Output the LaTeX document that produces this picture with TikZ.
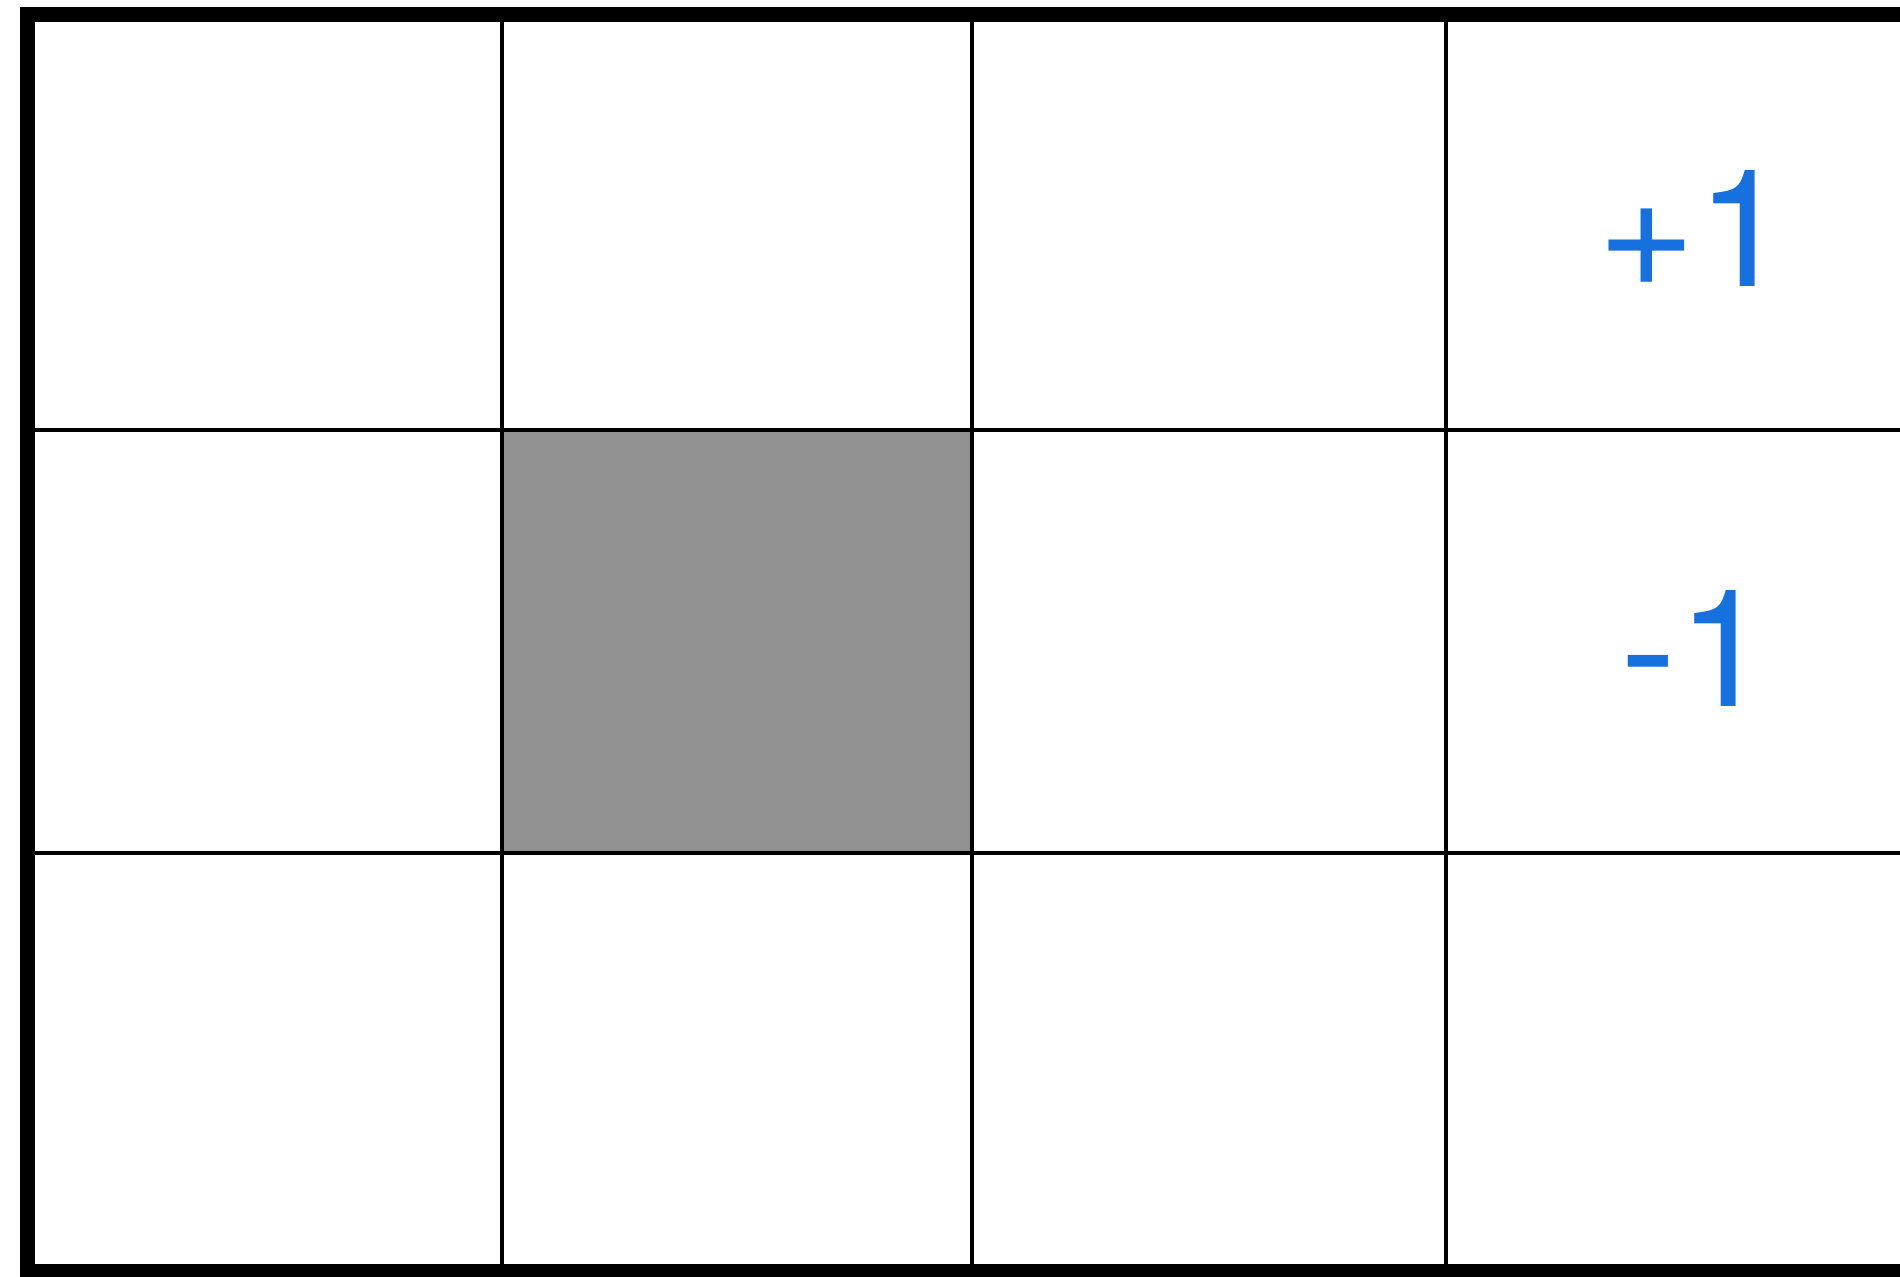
\documentclass[tikz,border=0pt]{standalone}
\usepackage{fontspec}
\setmainfont{TeX Gyre Heros}
\definecolor{wallgray}{RGB}{145,145,145}
\definecolor{rewardblue}{RGB}{22,112,222}
\usetikzlibrary{positioning}

\begin{document}
\begin{tikzpicture}[x=0.01cm, y=-0.01cm,
  gridline/.style={black, line width=1.2pt},
  outerline/.style={black, line width=4.5pt},
  reward/.style={font=\fontsize{48}{52}\selectfont, text=rewardblue,
                 inner sep=0pt, yscale=0.97}]
  \useasboundingbox (0,0) rectangle (1900,1277);
  \clip (0,0) rectangle (1900,1277);
  % Mur
  \fill[wallgray] (502,430) rectangle (972,853);
  % Grille
  \draw[gridline] (27,430) -- (1960,430);
  \draw[gridline] (27,853) -- (1960,853);
  \draw[gridline] (502,14) -- (502,1272);
  \draw[gridline] (972,14) -- (972,1272);
  \draw[gridline] (1446,14) -- (1446,1272);
  % Bord
  \draw[outerline] (1960,14.5) -- (27.5,14.5) -- (27.5,1272) -- (1960,1272);
  % Recompenses
  \node[reward] (plusone) at (1694,228) {+1};
  \node[reward] (minusone) at (1696,648) {-1};
\end{tikzpicture}
\end{document}
